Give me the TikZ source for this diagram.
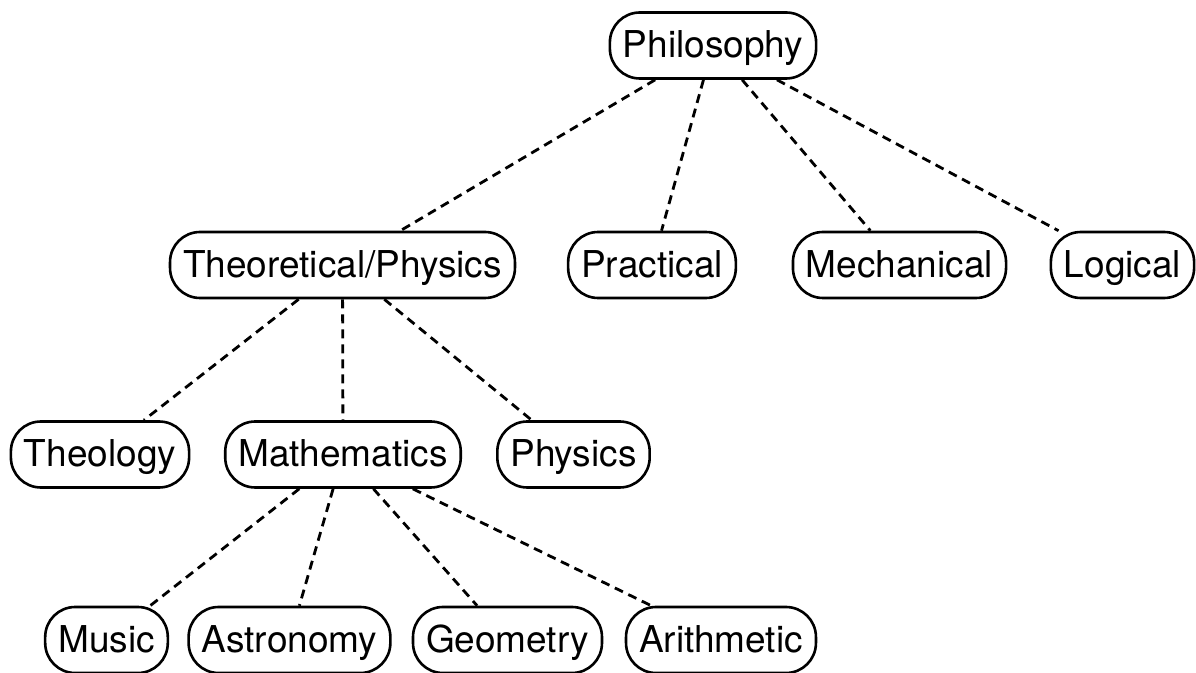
\documentclass[tikz,border=0pt]{standalone}
\usepackage{fontspec}
\setmainfont{TeX Gyre Heros}
\usepackage{tikz}

\begin{document}
\begin{tikzpicture}[x=0.5pt, y=-0.5pt, every node/.style={inner sep=2pt},
  topic/.style={draw, line width=1.3pt, rounded corners=15pt,
    minimum height=33pt, inner xsep=6.5pt, text height=12.5pt, text depth=0pt,
    font=\fontsize{18.5}{22}\selectfont},
  link/.style={line width=1.4pt, dash pattern=on 4.5pt off 3pt}]
\useasboundingbox (0,0) rectangle (1196,673);
% top level
\node[topic] (phil) at (713,45.5) {Philosophy};
% second row
\node[topic] (theo) at (342.5,265) {Theoretical/Physics};
\node[topic] (prac) at (652,265) {Practical};
\node[topic] (mech) at (899.5,265) {Mechanical};
\node[topic] (logi) at (1122.5,265) {Logical};
% third row
\node[topic] (theol) at (100,454.5) {Theology};
\node[topic] (math) at (343,454.5) {Mathematics};
\node[topic] (phys) at (573.5,454.5) {Physics};
% bottom row
\node[topic] (music) at (106.5,640) {Music};
\node[topic] (astro) at (289.5,640) {Astronomy};
\node[topic] (geom) at (507.5,640) {Geometry};
\node[topic] (arith) at (721,640) {Arithmetic};

\foreach \kid in {theo, prac, mech, logi}
  \draw[link] (phil) -- (\kid);
\foreach \kid in {theol, math, phys}
  \draw[link] (theo) -- (\kid);
\foreach \kid in {music, astro, geom, arith}
  \draw[link] (math) -- (\kid);
\end{tikzpicture}
\end{document}
